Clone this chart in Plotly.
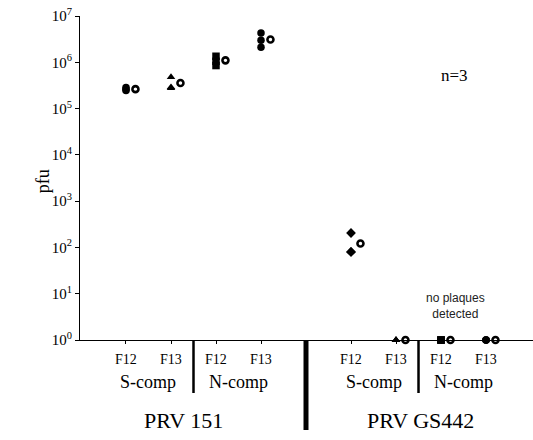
import plotly.graph_objects as go

# ---- data ----
positions = [1, 2, 3, 4, 6, 7, 8, 9]
pos_labels = ["F12", "F13", "F12", "F13", "F12", "F13", "F12", "F13"]
symbols = ["circle", "triangle-up", "square", "circle", "diamond", "triangle-up", "square", "circle"]
replicates = [
    [2.85e5, 2.45e5, 2.6e5],
    [4.8e5, 2.77e5, 2.9e5],
    [1.35e6, 1.05e6, 8.5e5],
    [4.3e6, 3.0e6, 2.1e6],
    [205, 80, 80],
    [1, 1, 1],
    [1, 1, 1],
    [1, 1, 1],
]
means = [2.63e5, 3.56e5, 1.1e6, 3.1e6, 122, 1, 1, 1]
comp_labels = ["S-comp", "N-comp", "S-comp", "N-comp"]
comp_pos = [1.5, 3.5, 6.5, 8.5]
virus_labels = ["PRV 151", "PRV GS442"]
virus_pos = [2.27, 7.55]
tick_vals_y = [1, 10, 100, 1e3, 1e4, 1e5, 1e6, 1e7]
tick_text_y = ["10<sup>%d</sup>" % i for i in range(8)]

SERIF = "Liberation Serif"
fig = go.Figure()

mean_offset = 0.21
for p, sym, vals in zip(positions, symbols, replicates):
    fig.add_trace(go.Scatter(
        x=[p] * len(vals), y=vals, mode="markers", cliponaxis=False,
        marker=dict(symbol=sym, size=7.5, color="black", line=dict(width=0)),
        showlegend=False, hoverinfo="skip"))
fig.add_trace(go.Scatter(
    x=[p + mean_offset for p in positions], y=means, mode="markers", cliponaxis=False,
    marker=dict(symbol="circle", size=6, color="white", line=dict(width=2.6, color="black")),
    showlegend=False, hoverinfo="skip"))

H = 324.0  # plot area height in px

def py(px):
    return -px / H

annotations = []
for p, t in zip(positions, pos_labels):
    annotations.append(dict(x=p, y=0, xref="x", yref="paper", yanchor="middle", yshift=-19,
                            text=t, showarrow=False, font=dict(family=SERIF, size=14, color="black")))
for p, t in zip(comp_pos, comp_labels):
    annotations.append(dict(x=p, y=0, xref="x", yref="paper", yanchor="middle", yshift=-42,
                            text=t, showarrow=False, font=dict(family=SERIF, size=18, color="black")))
for p, t in zip(virus_pos, virus_labels):
    annotations.append(dict(x=p, y=0, xref="x", yref="paper", yanchor="middle", yshift=-80,
                            text=t, showarrow=False, font=dict(family=SERIF, size=22, color="black")))
annotations.append(dict(x=8.32, y=0, xref="x", yref="paper", yanchor="middle", yshift=34,
                        text="no plaques<br>detected", showarrow=False,
                        font=dict(family="Liberation Sans", size=12, color="#222222")))
annotations.append(dict(x=8.3, y=5.72, xref="x", yref="y", text="n=3", showarrow=False,
                        font=dict(family=SERIF, size=17, color="black")))
annotations.append(dict(x=0, y=0.49, xref="paper", yref="paper", xanchor="center", xshift=-37,
                        text="pfu", textangle=-90, showarrow=False,
                        font=dict(family=SERIF, size=18, color="black")))

shapes = [
    dict(type="line", xref="x", yref="paper", x0=2.5, x1=2.5, y0=0, y1=py(53),
         line=dict(color="black", width=2.5)),
    dict(type="line", xref="x", yref="paper", x0=5, x1=5, y0=0, y1=py(90),
         line=dict(color="black", width=5)),
    dict(type="line", xref="x", yref="paper", x0=7.5, x1=7.5, y0=0, y1=py(53),
         line=dict(color="black", width=2.5)),
]

fig.update_layout(
    width=533, height=440,
    margin=dict(l=80, r=0, t=16, b=100),
    paper_bgcolor="white", plot_bgcolor="white",
    annotations=annotations, shapes=shapes,
    xaxis=dict(range=[-0.022, 10.044], showline=True, linecolor="black", linewidth=1,
               tickvals=positions, ticks="outside", ticklen=3, tickcolor="black",
               showticklabels=False, showgrid=False, zeroline=False),
    yaxis=dict(type="log", range=[0, 7], showline=True, linecolor="black", linewidth=1,
               tickvals=tick_vals_y, ticktext=tick_text_y, ticks="outside", ticklen=4,
               tickcolor="black", showgrid=False, zeroline=False,
               tickfont=dict(family=SERIF, size=15, color="black")),
)

fig.write_html("out.html")
